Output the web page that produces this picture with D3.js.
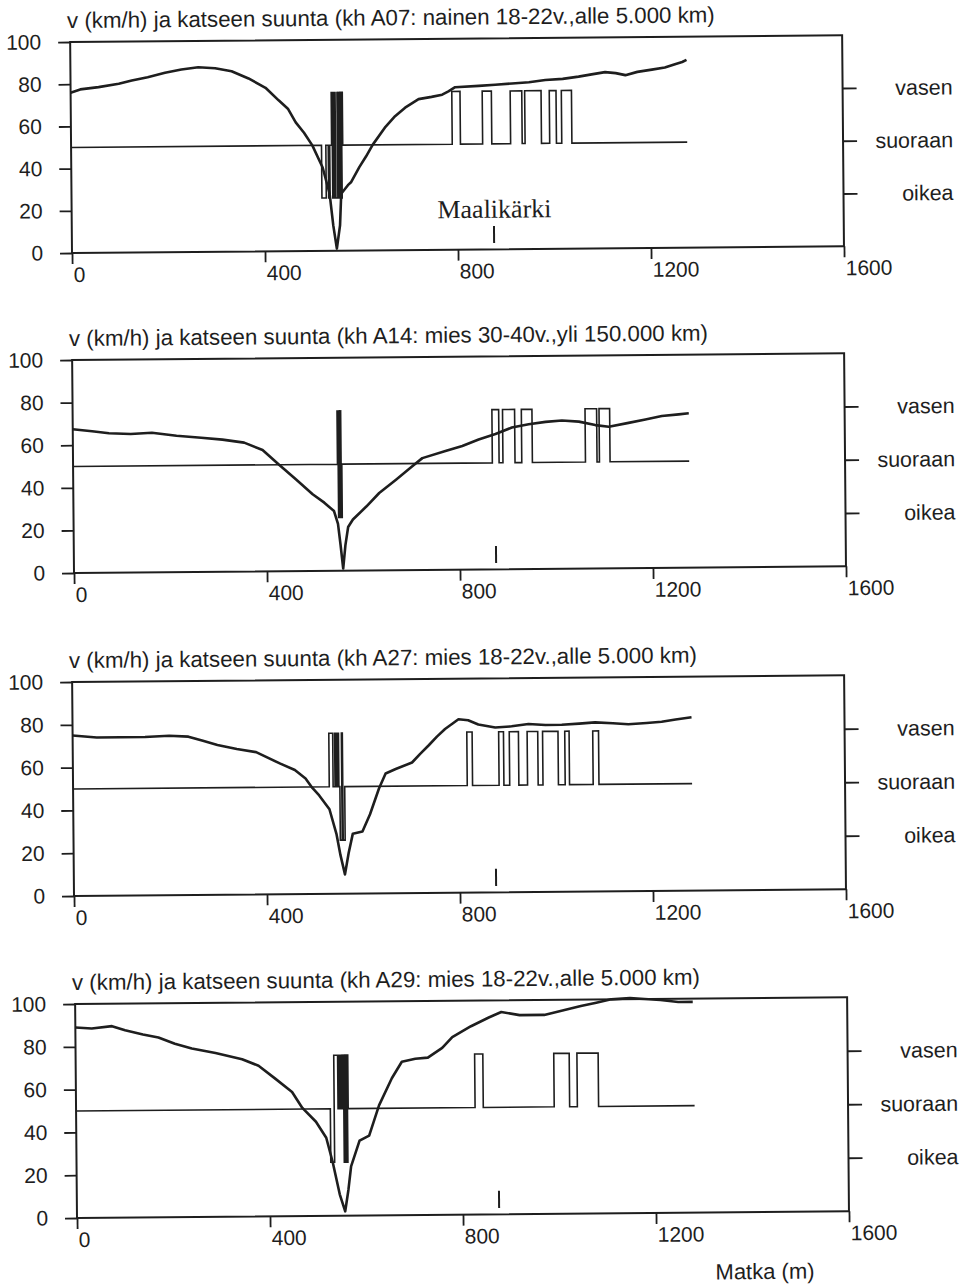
<!DOCTYPE html>
<meta charset="utf-8">
<svg width="961" height="1288"></svg>
<script src="https://d3js.org/d3.v7.min.js"></script>
<style>
  body { margin: 0; background: #fff; }
  svg { display: block; background: #fff; }
  text { font-family: 'Liberation Sans', Arial, sans-serif; fill: #1e1e1e; }
</style>
<script>
// x: matka (m), y: nopeus (km/h); katse: 1 = vasen, 0 = suoraan, -1 = oikea
var xTicks = [0, 400, 800, 1200, 1600];
var yTicks = [0, 20, 40, 60, 80, 100];
var gazeTicks = [1, 0, -1];
var gazeNames = {"1": "vasen", "0": "suoraan", "-1": "oikea"};
var maaliKarki = 875;

var titles = [
  "v (km/h) ja katseen suunta (kh A07: nainen 18-22v.,alle 5.000 km)",
  "v (km/h) ja katseen suunta (kh A14: mies 30-40v.,yli 150.000 km)",
  "v (km/h) ja katseen suunta (kh A27: mies 18-22v.,alle 5.000 km)",
  "v (km/h) ja katseen suunta (kh A29: mies 18-22v.,alle 5.000 km)"
];

var speedA07 = [[0,76],[20,77.5],[58,78.5],[100,80],[127,81.5],[160,83],[196,85],[230,86.5],[265,87.5],[300,87],
  [334,85.5],[369,82],[404,77.5],[431,71.5],[450,67.5],[466,61],[483,56],[500,50],[521,39.5],[535,27],[542,12],
  [549,1],[556,12],[559,27],[573,31],[580,32.5],[597,39.5],[611,44.5],[625,50],[652,58.5],[672,63.5],[693,67.5],
  [721,71.5],[748,72.5],[770,73.5],[783,75],[797,77],[846,77.5],[880,78],[915,78.5],[950,79],[984,80],[1020,80.5],
  [1053,81.5],[1080,82.5],[1108,83.5],[1130,83],[1150,82],[1175,83.5],[1205,84.5],[1232,85.5],[1253,87],[1268,88],[1277,89]];

var speedA14 = [[0,67.5],[40,66.5],[75,65.5],[120,65],[164,65.5],[215,64],[266,63],[310,62],[355,60.5],[393,57],
  [427,50],[462,43],[496,36],[520,32],[540,28],[548,22],[553,12],[558,1],[563,12],[569,20.5],[579,24],[607,30],
  [634,36.3],[669,42.5],[703,48.7],[724,52.5],[772,55.7],[807,58],[841,61],[876,63.5],[910,66.5],[945,68],[980,69],
  [1014,69.6],[1049,69],[1083,67.3],[1111,66.5],[1152,68.2],[1187,69.7],[1221,71.3],[1256,72],[1277,72.5]];

var speedA27 = [[0,75],[50,74],[100,74],[150,74],[200,74.5],[240,74],[270,72],[300,70],[340,68],[380,66.5],
  [430,61],[460,58],[482,54],[496,49.5],[510,46],[531,39.5],[545,28],[553,18],[562,9],[570,19],[579,28],[599,29],
  [615,37],[634,49],[648,56],[669,58],[703,61],[720,65],[738,69],[755,73],[772,76.5],[800,81],[820,80.5],[841,78.5],
  [876,77],[910,77.5],[945,78.5],[980,78],[1014,78],[1050,78.5],[1083,79],[1120,78.5],[1152,78],[1190,78.5],
  [1221,79],[1250,80],[1283,81]];

var speedA29 = [[0,89],[34,88.5],[76,89.5],[103,87.5],[140,85.5],[172,84],[206,81],[241,78.7],[290,76.5],[345,73.5],
  [379,70.4],[414,64.2],[448,58],[469,50.5],[497,44],[518,36.5],[531,25],[545,10],[556,2],[563,12],[569,23],
  [587,35],[607,37.3],[628,51.4],[655,64],[676,71.7],[704,73],[730,73.5],[760,78],[781,83],[820,88],[857,92],
  [883,94.5],[921,93],[972,93],[1010,95],[1048,97],[1080,98.5],[1111,100],[1150,100.5],[1180,100],[1213,99.5],
  [1250,98.5],[1280,98.5]];

var gazeA07 = [[0,0],[519,-1],[528,0],[533,-1],[536,0],[540,1],[541.5,-1],[543,1],[544.5,-1],[546,1],[548,-1],
  [552,1],[553.5,-1],[555,1],[556.5,-1],[558,1],[559.5,-1],[561,1],[563,0],[790,1],[807,0],[853,1],[872,0],
  [911,1],[935,0],[941,1],[975,0],[992,1],[1006,0],[1017,1],[1038,0],[1277,0]];

var gazeA14 = [[0,0],[548,1],[549.5,-1],[551,1],[552.5,-1],[554,1],[555.5,-1],[557,0],[869,1],[883,0],[891,1],
  [916,0],[930,1],[952,0],[1062,1],[1086,0],[1091,1],[1113,0],[1277,0]];

var gazeA27 = [[0,0],[531,1],[539,0],[543,1],[544.5,0],[546,1],[547.5,0],[549,1],[551,0],[553,-1],[557,1],
  [559,-1],[563,0],[817,1],[828,0],[883,1],[893,0],[905,1],[924,0],[942,1],[964,0],[974,1],[1006,0],[1020,1],
  [1029,0],[1078,1],[1090,0],[1283,0]];

var gazeA29 = [[0,0],[527,-1],[535,1],[543,0],[544.5,1],[546,0],[547.5,1],[549,0],[550.5,1],[552,0],[553.5,1],
  [555,-1],[556.5,1],[558,-1],[559.5,1],[561,-1],[562.5,1],[564,0],[827,1],[844,0],[991,1],[1023,0],[1039,1],
  [1083,0],[1282,0]];

var panels = [
  {title: titles[0], speed: speedA07, gaze: gazeA07},
  {title: titles[1], speed: speedA14, gaze: gazeA14},
  {title: titles[2], speed: speedA27, gaze: gazeA27},
  {title: titles[3], speed: speedA29, gaze: gazeA29}
];

// scanned page: each panel sits a little tilted
var origins = [[72, 253], [74, 573], [74, 896], [77, 1218]],
    heights = [211, 213, 214, 214],
    width = 772,
    ink = "#1e1e1e";

var svg = d3.select("svg");
var x = d3.scaleLinear().domain([0, 1600]).range([0, width]);

panels.forEach(function(p, i) {
  var h = heights[i];
  var y = d3.scaleLinear().domain([0, 100]).range([0, -h]);
  var gy = d3.scaleLinear().domain([-1, 1]).range([y(25), y(75)]);
  var g = svg.append("g")
      .attr("transform", "translate(" + origins[i] + ") rotate(-0.5)");

  g.append("text")
      .attr("x", -3)
      .attr("y", y(100) - 14)
      .style("font-size", "22.3px")
      .text(p.title);

  g.append("rect")
      .attr("x", 0).attr("y", y(100))
      .attr("width", width).attr("height", h)
      .attr("fill", "none")
      .attr("stroke", ink)
      .attr("stroke-width", 2);

  var ax = g.append("g")
      .attr("color", ink)
      .call(d3.axisBottom(x).tickValues(xTicks).tickSize(11).tickPadding(3).tickFormat(d3.format("d")));
  ax.select(".domain").remove();
  ax.selectAll("line").attr("stroke-width", 1.8);
  ax.selectAll("text").attr("text-anchor", "start").attr("dx", 1).style("font-size", "21px");

  var ay = g.append("g")
      .attr("color", ink)
      .call(d3.axisLeft(y).tickValues(yTicks).tickSize(12).tickPadding(17));
  ay.select(".domain").remove();
  ay.selectAll("line").attr("stroke-width", 1.8);
  ay.selectAll("text").style("font-size", "21px");

  var ar = g.append("g")
      .attr("color", ink)
      .attr("transform", "translate(" + width + ",0)")
      .call(d3.axisRight(gy).tickValues(gazeTicks).tickSize(14)
        .tickFormat(function(d) { return gazeNames[d]; }));
  ar.select(".domain").remove();
  ar.selectAll("line").attr("stroke-width", 1.8);
  ar.selectAll("text").attr("x", 110).attr("text-anchor", "end").style("font-size", "21.5px");

  g.append("path")
      .datum(p.gaze)
      .attr("fill", "none")
      .attr("stroke", ink)
      .attr("stroke-width", 1.6)
      .attr("d", d3.line()
        .x(function(d) { return x(d[0]); })
        .y(function(d) { return gy(d[1]); })
        .curve(d3.curveStepAfter));

  g.append("path")
      .datum(p.speed)
      .attr("fill", "none")
      .attr("stroke", ink)
      .attr("stroke-width", 2.6)
      .attr("stroke-linejoin", "round")
      .attr("d", d3.line()
        .x(function(d) { return x(d[0]); })
        .y(function(d) { return y(d[1]); }));

  g.append("line")
      .attr("x1", x(maaliKarki)).attr("x2", x(maaliKarki))
      .attr("y1", y(3)).attr("y2", y(11))
      .attr("stroke", ink)
      .attr("stroke-width", 2);

  if (i == 0) {
    g.append("text")
        .attr("x", x(758))
        .attr("y", y(15))
        .style("font-family", "'Liberation Serif', 'Times New Roman', serif")
        .style("font-size", "26px")
        .text("Maalikärki");
  }
  if (i == 3) {
    g.append("text")
        .attr("x", 638)
        .attr("y", 67)
        .style("font-size", "22px")
        .text("Matka (m)");
  }
});
</script>
